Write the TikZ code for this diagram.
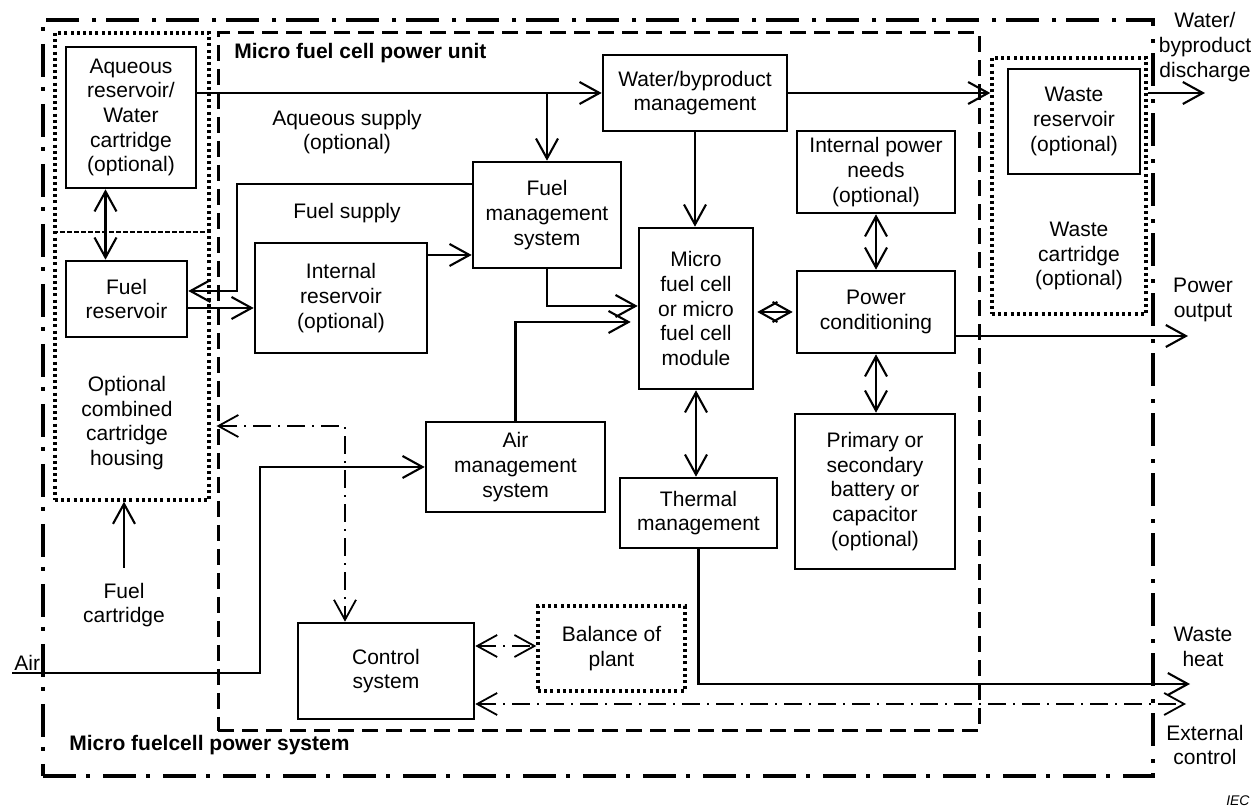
\documentclass[tikz,border=0pt]{standalone}
\usepackage{fontspec}
\setmainfont{Liberation Sans}
\usetikzlibrary{arrows.meta}

\tikzset{
  box/.style={draw, line width=1.3pt, align=center, inner sep=0pt},
  dotbox/.style={box, line width=1.7pt, dash pattern=on 1.5pt off 1.6pt},
  wh/.style 2 args={minimum width=#1*0.5pt, minimum height=#2*0.5pt},
  lbl/.style={align=center, inner sep=1pt},
  arr/.style={line width=1.05pt, -{Straight Barb[length=10pt,width=11pt]}},
  darr/.style={line width=1.05pt, {Straight Barb[length=10pt,width=11pt]}-{Straight Barb[length=10pt,width=11pt]}},
  diam/.style={line width=1.05pt, shorten <=1.5pt, shorten >=1.5pt,
    {Straight Barb[length=9pt,width=10pt]}-{Straight Barb[length=9pt,width=10pt]}},
  ctrl/.style={line width=0.9pt, dash pattern=on 9pt off 3.5pt on 1pt off 3.5pt,
    {Straight Barb[length=10pt,width=11pt]}-{Straight Barb[length=10pt,width=11pt]}},
  sysframe/.style={draw, line width=1.6pt, dash pattern=on 16.5pt off 5pt on 2pt off 6.5pt, inner sep=0pt},
  unitframe/.style={draw, line width=1.5pt, dash pattern=on 8pt off 4pt, inner sep=0pt},
}

\begin{document}
\begin{tikzpicture}[x=0.5pt, y=-0.5pt, font=\fontsize{10.5pt}{12.3pt}\selectfont]
\useasboundingbox (0,0) rectangle (1255,807);
% frames
\node[sysframe, wh={1110}{756}] (sys) at (598,398) {};
\node[unitframe, wh={761}{698}] (unit) at (598.5,382) {};
\node[dotbox, wh={154}{467}] (housing) at (132,266.5) {};
\draw[line width=1.4pt, dash pattern=on 2.5pt off 1pt] (housing.west |- 0,232) -- (housing.east |- 0,232);
\node[dotbox, wh={154}{256}] (wastecart) at (1069,186) {};
\node[lbl, anchor=west] (unitlbl) at (232,53) {\textbf{Micro fuel cell power unit}};
\node[lbl, anchor=west] (syslbl) at (67,745) {\textbf{Micro fuelcell power system}};

% boxes
\node[box, wh={130}{141}] (aqres) at (131,117.5) {Aqueous\\reservoir/\\Water\\cartridge\\(optional)};
\node[box, wh={121}{76}] (fuelres) at (126.5,299) {Fuel\\reservoir};
\node[box, wh={172}{110}] (intres) at (341,298) {Internal\\reservoir\\(optional)};
\node[box, wh={148}{106}] (fuelmgmt) at (547,215) {Fuel\\management\\system};
\node[box, wh={184}{76}] (watermgmt) at (695,93) {Water/byproduct\\management};
\node[box, wh={114}{161}] (cell) at (696,308.5) {Micro\\fuel cell\\or micro\\fuel cell\\module};
\node[box, wh={158}{82}] (intpower) at (876,172) {Internal power\\needs\\(optional)};
\node[box, wh={158}{82}] (powercond) at (876,312) {Power\\conditioning};
\node[box, wh={160}{155}] (battery) at (875,491.5) {Primary or\\secondary\\battery or\\capacitor\\(optional)};
\node[box, wh={132}{105}] (wasteres) at (1074,121.5) {Waste\\reservoir\\(optional)};
\node[box, wh={179}{90}] (airmgmt) at (515.5,467) {Air\\management\\system};
\node[box, wh={157}{70}] (thermal) at (698.5,513) {Thermal\\management};
\node[box, wh={176}{96}] (control) at (386,671) {Control\\system};
\node[dotbox, wh={147}{85}] (bop) at (611.5,648.5) {Balance of\\plant};

% labels
\node[lbl] (aqsup) at (347,132) {Aqueous supply\\(optional)};
\node[lbl] (fuelsup) at (347,213) {Fuel supply};
\node[lbl] (houselbl) at (127,423) {Optional\\combined\\cartridge\\housing};
\node[lbl] (cart) at (124,605) {Fuel\\cartridge};
\node[lbl] (wclbl) at (1079,256) {Waste\\cartridge\\(optional)};
\node[lbl] (disclbl) at (1205,47) {Water/\\byproduct\\discharge};
\node[lbl] (poutlbl) at (1203,300) {Power\\output};
\node[lbl] (heatlbl) at (1203,647) {Waste\\heat};
\node[lbl] (extlbl) at (1205,745) {External\\control};
\coordinate (airin) at (12,673);
\node[lbl, anchor=south west] (airlbl) at (airin) {Air};
\node[anchor=base east, inner sep=0pt, font=\fontsize{7pt}{8pt}\selectfont\itshape] (ieclbl) at (1250,806) {IEC};

% water and fuel
\draw[arr] (aqres.east |- watermgmt.west) -- (watermgmt.west);
\draw[arr] (fuelmgmt.north |- watermgmt.west) -- (fuelmgmt.north);
\draw[arr] (watermgmt.east) -- (wastecart.west |- watermgmt.east);
\coordinate (disch) at (1205,93);
\draw[arr] (wastecart.east |- disch) -- (disch);
\draw[arr] (watermgmt.south) -- (watermgmt.south |- cell.north);
\draw[arr] ([yshift=15.5pt]fuelmgmt.west) -- ++(-235,0) |- ([yshift=4pt]fuelres.east);
\draw[arr] ([yshift=-4.5pt]fuelres.east) coordinate (fr) -- (fr -| intres.west);
\draw[arr] ([yshift=21.5pt]intres.east) coordinate (ir) -- (ir -| fuelmgmt.west);
\draw[arr] (fuelmgmt.south) |- ([yshift=1.25pt]cell.west);
\draw[arr, shorten >=3.5pt] (airmgmt.north) |- ([yshift=-6.75pt]cell.west);
\draw[darr] (aqres.south -| fuelres.north) ++(-21,0) coordinate (aq) -- (aq |- fuelres.north);

% power and heat
\draw[diam] (cell.east |- powercond.west) -- (powercond.west);
\draw[darr] (intpower.south) -- (powercond.north);
\draw[darr] (powercond.south) -- (powercond.south |- battery.north);
\coordinate (pout) at (1188,336);
\draw[arr] (powercond.east |- pout) -- (pout);
\draw[darr] (cell.south) -- (cell.south |- thermal.north);
\coordinate (wheat) at (1190,684);
\draw[arr] (thermal.south) |- (wheat);

% air and cartridge
\draw[arr] (airin) -- ++(248,0) |- (airmgmt.west);
\draw[arr, shorten <=6.5pt] (cart.north) -- (cart.north |- housing.south);

% control
\coordinate (extc) at (1186,704);
\draw[ctrl] (control.east |- extc) -- (extc);
\draw[ctrl] ([yshift=12.5pt]control.east) coordinate (cb) -- (cb -| bop.west);
\draw[ctrl] (unit.west |- 0,426) -| ([xshift=-20.5pt]control.north);
\end{tikzpicture}
\end{document}
